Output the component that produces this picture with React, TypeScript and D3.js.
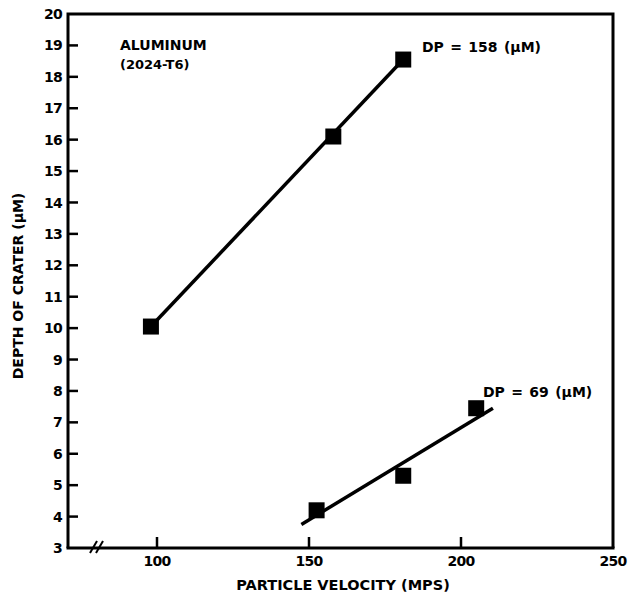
import React from "react";
import * as d3 from "d3";

const xTicks = [100, 150, 200, 250];
const yTicks = [3, 4, 5, 6, 7, 8, 9, 10, 11, 12, 13, 14, 15, 16, 17, 18, 19, 20];

const series158X = [98, 158, 181];
const series158Y = [10.05, 16.1, 18.55];
const fit158X = [98, 181];
const fit158Y = [10.05, 18.55];

const series69X = [152.5, 181, 205];
const series69Y = [4.2, 5.3, 7.45];
const fit69X = [147.5, 210.5];
const fit69Y = [3.75, 7.45];

const W = 628, H = 598;
const left = 68, right = 613, top = 14, bottom = 548;

export default function App() {
  const x = d3.scaleLinear().domain([100, 250]).range([157, 613]);
  const y = d3.scaleLinear().domain([3, 20]).range([bottom, top]);
  const line = d3.line<[number, number]>().x(d => x(d[0])).y(d => y(d[1]));
  const font = "'DejaVu Sans', Arial, sans-serif";
  const pts158 = series158X.map((v, i) => [v, series158Y[i]] as [number, number]);
  const pts69 = series69X.map((v, i) => [v, series69Y[i]] as [number, number]);
  const f158 = fit158X.map((v, i) => [v, fit158Y[i]] as [number, number]);
  const f69 = fit69X.map((v, i) => [v, fit69Y[i]] as [number, number]);
  const sq = 16;
  return (
    <svg width={W} height={H} style={{ position: "absolute", left: 0, top: 0, background: "#fff" }} fontFamily={font} fontWeight="bold">
      <rect x={0} y={0} width={W} height={H} fill="#fff" />
      {/* frame */}
      <path d={`M${left},${bottom} L${left},${top} L${right},${top} L${right},${bottom}`} fill="none" stroke="#000" strokeWidth={3} />
      <line x1={left - 1.5} x2={right + 1.5} y1={bottom} y2={bottom} stroke="#000" strokeWidth={3} />
      {/* axis break */}
      <line x1={90} y1={553} x2={97} y2={541} stroke="#000" strokeWidth={2} />
      <line x1={96} y1={553} x2={103} y2={541} stroke="#000" strokeWidth={2} />
      {/* y ticks */}
      {yTicks.map(t => (
        <g key={"y" + t}>
          {t > 3 && t < 20 && <line x1={left} x2={left + 10} y1={y(t)} y2={y(t)} stroke="#000" strokeWidth={2.5} />}
          <text x={62} y={y(t)} dy="0.36em" textAnchor="end" fontSize={14} letterSpacing={-0.8}>{t}</text>
        </g>
      ))}
      {/* x ticks */}
      {xTicks.map(t => (
        <g key={"x" + t}>
          {t < 250 && <line x1={x(t)} x2={x(t)} y1={bottom} y2={bottom - 11} stroke="#000" strokeWidth={2.5} />}
          <text x={x(t)} y={566} textAnchor="middle" fontSize={14} letterSpacing={-0.8}>{t}</text>
        </g>
      ))}
      {/* lines */}
      <path d={line(f158) || ""} fill="none" stroke="#000" strokeWidth={3.5} />
      <path d={line(f69) || ""} fill="none" stroke="#000" strokeWidth={3.5} />
      {pts158.concat(pts69).map((p, i) => (
        <rect key={i} x={x(p[0]) - sq / 2} y={y(p[1]) - sq / 2} width={sq} height={sq} fill="#000" />
      ))}
      {/* labels */}
      <text x={120} y={50} fontSize={14}>ALUMINUM</text>
      <text x={120} y={69} fontSize={13}>(2024-T6)</text>
      <text x={422} y={52} fontSize={14} wordSpacing={1.5}>DP = 158 (μM)</text>
      <text x={483} y={397} fontSize={14} wordSpacing={1.5}>DP = 69 (μM)</text>
      <text x={343} y={590} textAnchor="middle" fontSize={14.5}>PARTICLE VELOCITY (MPS)</text>
      <text transform="translate(23,286) rotate(-90)" textAnchor="middle" fontSize={14}>DEPTH OF CRATER (μM)</text>
    </svg>
  );
}
